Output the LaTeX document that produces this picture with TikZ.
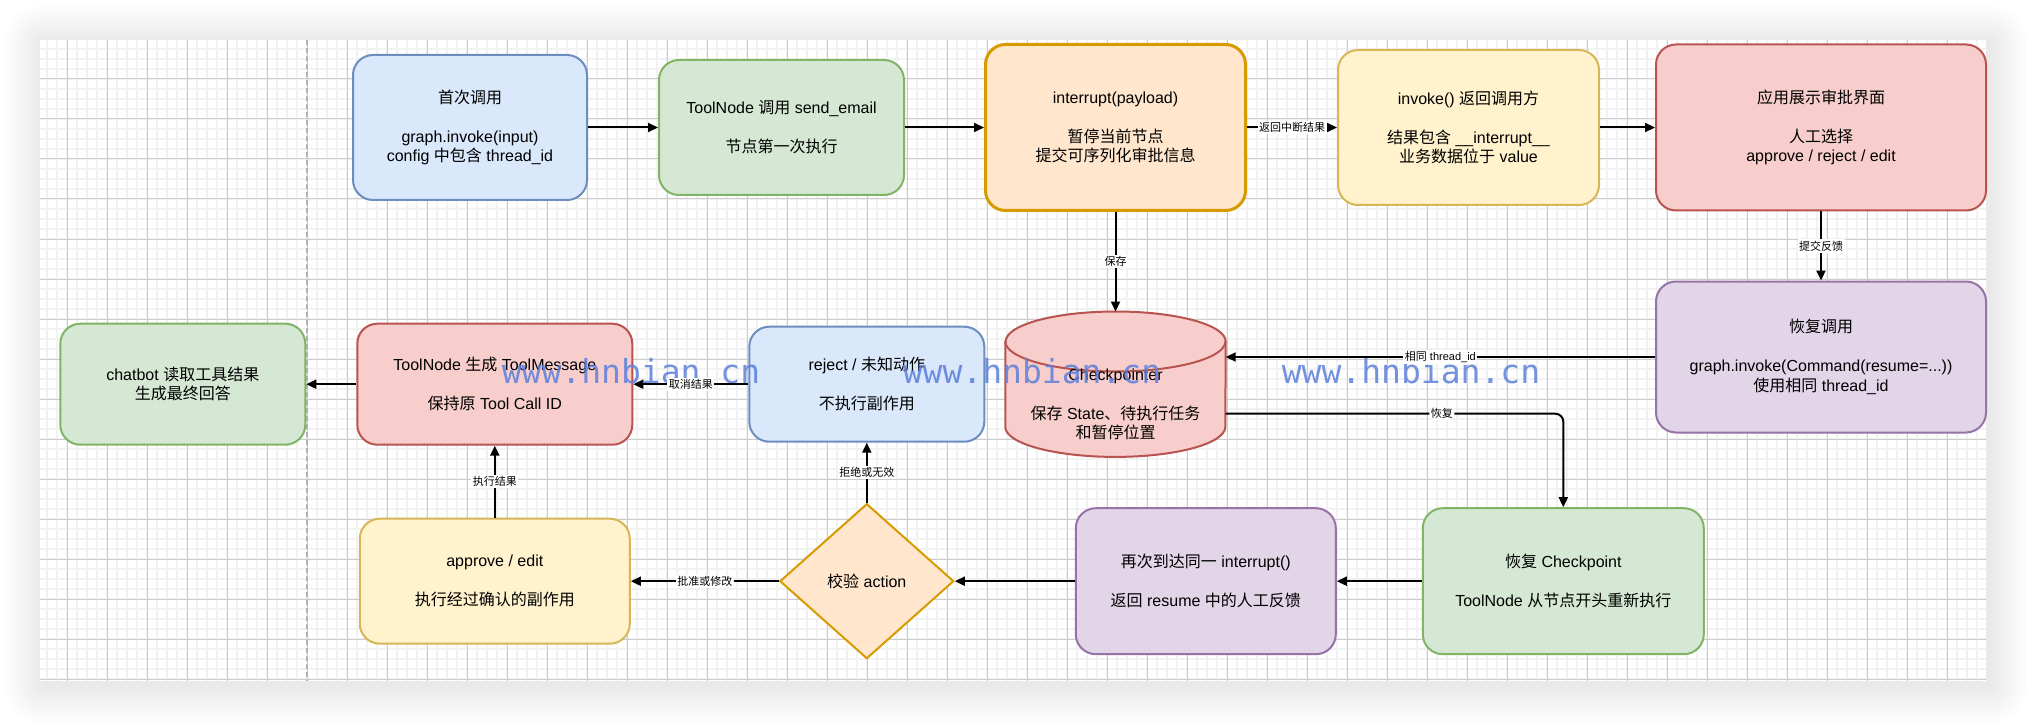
\documentclass[tikz,border=0pt]{standalone}
\usepackage{fontspec}
\setmainfont{Liberation Sans}
\newfontfamily\cjk{Noto Sans CJK SC}
\newfontfamily\wmfont{DejaVu Sans Mono}
\usepackage{xcolor}
\usepackage{tikz}
\usetikzlibrary{arrows.meta, shapes.geometric}
\usetikzlibrary{positioning, calc}

% Chinese characters switch to the CJK font by themselves
\XeTeXinterchartokenstate=1
\newXeTeXintercharclass\cjkclass
\newcommand\cjkrange[2]{%
    \count255=#1\relax
    \loop
        \XeTeXcharclass\count255=\cjkclass
        \ifnum\count255<#2\relax
        \advance\count255 by 1
    \repeat}
\cjkrange{"3000}{"303F}
\cjkrange{"4E00}{"9FFF}
\cjkrange{"FF00}{"FFEF}
\XeTeXinterchartoks 0 \cjkclass = {\begingroup\cjk}
\XeTeXinterchartoks 4095 \cjkclass = {\begingroup\cjk}
\XeTeXinterchartoks \cjkclass 0 = {\endgroup}
\XeTeXinterchartoks \cjkclass 4095 = {\endgroup}

\definecolor{bluefill}{HTML}{DAE8FC}
\definecolor{blueline}{HTML}{6C8EBF}
\definecolor{greenfill}{HTML}{D5E8D4}
\definecolor{greenline}{HTML}{82B366}
\definecolor{orangefill}{HTML}{FFE6CC}
\definecolor{orangeline}{HTML}{D79B00}
\definecolor{yellowfill}{HTML}{FFF2CC}
\definecolor{yellowline}{HTML}{D6B656}
\definecolor{redfill}{HTML}{F8CECC}
\definecolor{redline}{HTML}{B85450}
\definecolor{purplefill}{HTML}{E1D5E7}
\definecolor{purpleline}{HTML}{9673A6}
\definecolor{wmblue}{HTML}{5B7FDB}

\tikzset{
    flownode/.style = {draw, line width=2pt, rounded corners=20pt, inner sep=0pt,
        align=center, font=\fontsize{16}{19.5}\selectfont},
    blue_box/.style = {flownode, draw=blueline, fill=bluefill},
    green_box/.style = {flownode, draw=greenline, fill=greenfill},
    orange_box/.style = {flownode, draw=orangeline, fill=orangefill, line width=3pt},
    yellow_box/.style = {flownode, draw=yellowline, fill=yellowfill},
    red_box/.style = {flownode, draw=redline, fill=redfill},
    purple_box/.style = {flownode, draw=purpleline, fill=purplefill},
    check_node/.style = {diamond, draw=orangeline, fill=orangefill, line width=2pt,
        inner sep=0pt, font=\fontsize{16}{19.5}\selectfont},
    link/.style = {->, line width=2pt},
    edge_label/.style = {fill=white, inner sep=1.5pt, font=\fontsize{11}{13}\selectfont},
    watermark/.style = {anchor=base, text=wmblue, opacity=0.85,
        font=\wmfont\fontsize{33}{33}\selectfont},
    grid_minor/.style = {black!5, line width=1.2pt},
    grid_major/.style = {black!20, line width=1pt},
}

\begin{document}
\begin{tikzpicture}[x=1pt, y=-1pt, >={Triangle[length=10pt, width=9pt]}]
    \useasboundingbox (0,0) rectangle (2026,722);
    % canvas, its shadow and the grid
    \fill[white] (0,0) rectangle (2026,722);
    \foreach \i [evaluate=\i as \r using 1.8*\i] in {1,...,22}
        \fill[black, opacity=0.0045, rounded corners=\r pt]
            (43-\r,44-\r) rectangle (1989+\r,685+\r);
    \fill[white] (40,40) rectangle (1986,681);
    \foreach \x in {47,57,...,1977}
        \draw[grid_minor] (\x,40) -- (\x,681);
    \foreach \y in {49,59,...,679}
        \draw[grid_minor] (40,\y) -- (1986,\y);
    \foreach \x in {67,107,...,1947}
        \draw[grid_major] (\x,40) -- (\x,681);
    \foreach \y in {79,119,...,679}
        \draw[grid_major] (40,\y) -- (1986,\y);
    \draw[black!30, line width=1.5pt, dash pattern=on 5pt off 3pt] (307,40) -- (307,681);

    % first run
    \node (call) [blue_box, minimum width=234pt, minimum height=145pt] at (470,127.5)
        {首次调用\\[19.5pt]graph.invoke(input)\\config 中包含 thread\_id};
    \node (tool_call) [green_box, minimum width=245pt, minimum height=135pt, right=70pt of call]
        {ToolNode 调用 send\_email\\[19.5pt]节点第一次执行};
    \node (pause) [orange_box, minimum width=260pt, minimum height=166pt, right=79pt of tool_call]
        {interrupt(payload)\\[19.5pt]暂停当前节点\\提交可序列化审批信息};
    \node (caller) [yellow_box, minimum width=261pt, minimum height=155pt, right=90pt of pause]
        {invoke() 返回调用方\\[19.5pt]结果包含 \_\_interrupt\_\_\\业务数据位于 value};
    \node (review) [red_box, minimum width=330pt, minimum height=166pt, right=55pt of caller]
        {应用展示审批界面\\[19.5pt]人工选择\\approve / reject / edit};
    \node (resume) [purple_box, minimum width=330pt, minimum height=151pt, below=69pt of review]
        {恢复调用\\[19.5pt]graph.invoke(Command(resume=...))\\使用相同 thread\_id};

    % checkpointer
    \node (saver) [minimum width=220pt, minimum height=145pt, inner sep=0pt, below=99.5pt of pause] {};
    \draw[draw=redline, fill=redfill, line width=2pt] ($(saver.north west)+(0,30)$)
        -- ($(saver.south west)+(0,-30)$)
        arc[start angle=180, end angle=360, x radius=110pt, y radius=30pt]
        -- ($(saver.north east)+(0,30)$)
        arc[start angle=0, end angle=180, x radius=110pt, y radius=30pt] -- cycle;
    \draw[draw=redline, line width=2pt] ($(saver.north west)+(0,30)$)
        arc[start angle=180, end angle=360, x radius=110pt, y radius=30pt];
    \node (saver_text) [align=center, font=\fontsize{16}{19.5}\selectfont] at ($(saver.center)+(0,20)$)
        {Checkpointer\\[19.5pt]保存 State、待执行任务\\和暂停位置};

    % second row
    \node (reject) [blue_box, minimum width=235pt, minimum height=115pt, left=20pt of saver]
        {reject / 未知动作\\[19.5pt]不执行副作用};
    \node (tool_msg) [red_box, minimum width=275pt, minimum height=121pt, left=115pt of reject]
        {ToolNode 生成 ToolMessage\\[19.5pt]保持原 Tool Call ID};
    \node (chatbot) [green_box, minimum width=245pt, minimum height=121pt, left=50pt of tool_msg]
        {chatbot 读取工具结果\\生成最终回答};

    % third row
    \node (approve) [yellow_box, minimum width=270pt, minimum height=125pt, below=72pt of tool_msg]
        {approve / edit\\[19.5pt]执行经过确认的副作用};
    \node (check) [check_node, minimum width=174pt, minimum height=155pt, right=148pt of approve]
        {校验 action};
    \node (reach) [purple_box, minimum width=260pt, minimum height=146pt, right=120pt of check]
        {再次到达同一 interrupt()\\[19.5pt]返回 resume 中的人工反馈};
    \node (restore) [green_box, minimum width=281pt, minimum height=146pt, right=85pt of reach]
        {恢复 Checkpoint\\[19.5pt]ToolNode 从节点开头重新执行};

    % watermark
    \node (wm1) [watermark] at (631,383) {www.hnbian.cn};
    \node (wm2) [watermark] at (1032,383) {www.hnbian.cn};
    \node (wm3) [watermark] at (1411,383) {www.hnbian.cn};

    % connectors
    \draw[link] (call) -- (tool_call);
    \draw[link] (tool_call) -- (pause);
    \draw[link] (pause) -- node[edge_label] {返回中断结果} (caller);
    \draw[link] (caller) -- (review);
    \draw[link] (pause) -- node[edge_label] {保存} (pause |- saver.north);
    \draw[link] (review) -- node[edge_label] {提交反馈} (resume);
    \draw[link] (resume) -- node[edge_label] {相同 thread\_id} (resume -| saver.east);
    \draw[link, rounded corners=8pt] ($(saver.east)+(0,29.5)$) -| node[edge_label, pos=0.32] {恢复} (restore.north);
    \draw[link] (restore) -- (reach);
    \draw[link] (reach) -- (check);
    \draw[link] (check) -- node[edge_label] {批准或修改} (approve);
    \draw[link] (check) -- node[edge_label] {拒绝或无效} (reject);
    \draw[link] (approve) -- node[edge_label] {执行结果} (tool_msg);
    \draw[link] (reject) -- node[edge_label] {取消结果} (tool_msg);
    \draw[link] (tool_msg) -- (chatbot);
\end{tikzpicture}
\end{document}
